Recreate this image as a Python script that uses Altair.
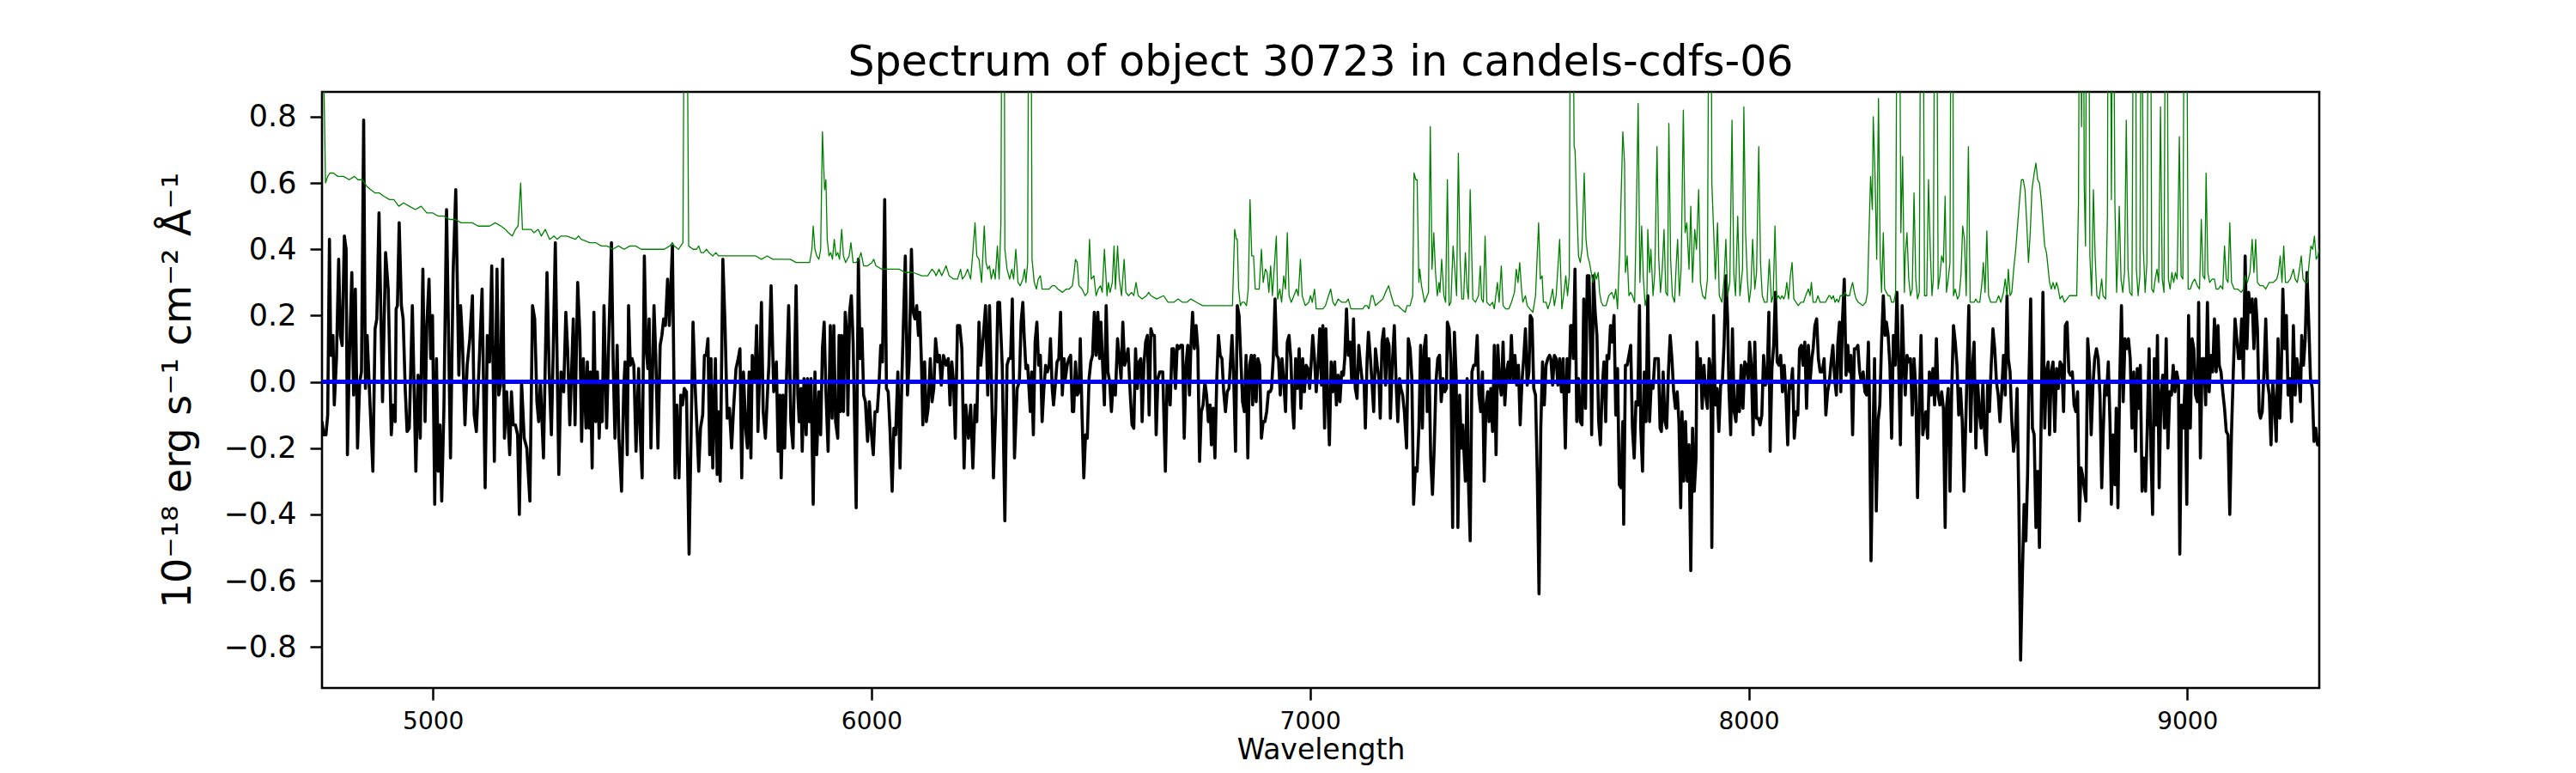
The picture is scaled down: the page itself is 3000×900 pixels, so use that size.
import altair as alt
import pandas as pd

# ---------------- data (wavelength in Angstrom, flux in 1e-18 erg/s/cm2/A) ----------------
flux_a = [(4747,-0.12),(4751,-0.16),(4756,-0.16),(4760,-0.10),(4764,0.43),(4767,0.08),(4772,0.14),(4775,-0.07),(4780,0.07),(4785,0.37),(4789,0.14),(4793,0.11),(4798,0.44),(4802,0.40),(4805,-0.22),(4809,0.05),(4815,0.33),(4819,-0.04),(4823,0.28),(4828,-0.20),(4833,0.00),(4837,0.03),(4842,0.79),(4846,-0.02),(4850,0.14),(4855,-0.02),(4863,-0.27),(4868,0.16),(4872,0.19),(4877,0.51),(4885,-0.06),(4892,0.39),(4898,0.28),(4905,-0.16),(4909,-0.07),(4914,-0.12),(4916,0.22),(4919,0.23),(4923,0.48),(4928,0.23),(4932,0.19),(4937,-0.03),(4941,-0.15),(4946,-0.14),(4953,0.23),(4961,-0.27),(4966,0.02),(4971,-0.17),(4977,0.34),(4982,-0.12),(4986,0.17),(4991,0.31),(4995,0.07),(4999,0.20),(5004,-0.37),(5008,0.07),(5012,-0.27),(5016,-0.13),(5020,-0.36),(5025,-0.08),(5031,0.52),(5040,-0.23),(5046,0.33),(5052,0.58),(5059,0.02),(5063,0.23),(5067,0.13),(5073,-0.13),(5078,0.05),(5084,0.13),(5090,0.26),(5094,-0.10),(5099,-0.15),(5104,0.01),(5112,0.28),(5119,-0.32),(5124,0.14),(5129,0.06),(5134,0.35),(5140,-0.24),(5146,0.34),(5150,-0.04),(5154,-0.01),(5159,0.37),(5163,-0.17),(5168,-0.03),(5175,-0.22),(5179,-0.03),(5183,-0.13),(5188,-0.13),(5193,-0.16),(5197,-0.40),(5202,0.00),(5208,-0.17),(5214,-0.20),(5221,-0.36),(5227,0.23),(5232,0.19),(5237,-0.06),(5241,-0.12),(5245,0.00),(5252,-0.23),(5260,0.33),(5265,0.03),(5270,-0.16),(5274,0.08),(5279,0.42),(5287,-0.28),(5292,0.03),(5298,-0.03),(5303,0.21),(5307,0.10),(5312,-0.13),(5317,0.07),(5320,0.19),(5324,-0.13)]

flux_b = [(5330,0.30),(5335,0.14),(5339,-0.18),(5343,0.07),(5349,-0.14),(5352,0.06),(5356,-0.14),(5359,0.03),(5363,-0.26),(5367,0.21),(5371,-0.12),(5375,0.03),(5379,-0.17),(5383,0.00),(5386,-0.12),(5390,0.23),(5396,-0.14),(5401,0.13),(5407,0.42),(5411,0.05),(5415,-0.17),(5420,0.11),(5424,-0.17),(5430,-0.33),(5435,-0.02),(5438,0.06),(5443,-0.22),(5446,0.23),(5450,0.05),(5454,0.07),(5458,0.05),(5463,-0.21),(5469,0.04),(5473,-0.17),(5477,-0.29),(5482,0.38),(5486,0.10),(5490,0.04),(5493,0.19),(5497,-0.20),(5504,0.23),(5508,0.08),(5513,-0.20),(5518,0.11),(5522,0.14),(5526,0.19),(5530,0.17),(5535,0.31),(5539,0.17),(5546,0.41),(5552,-0.29),(5556,-0.07),(5561,-0.29),(5565,-0.04),(5569,-0.07),(5573,-0.02),(5578,-0.03),(5584,-0.52),(5587,-0.28),(5593,0.18),(5598,-0.02),(5602,-0.14),(5606,-0.27),(5610,-0.14),(5615,-0.10),(5619,0.08),(5623,0.08),(5627,0.13),(5631,-0.22),(5634,0.07),(5638,-0.26),(5644,0.07),(5648,-0.28),(5651,-0.09),(5655,-0.30),(5661,0.37),(5666,0.17),(5671,-0.11),(5676,-0.08),(5681,-0.20),(5685,-0.09),(5691,0.04),(5696,0.07),(5700,0.10),(5704,-0.29),(5708,0.03),(5713,-0.14),(5717,-0.20),(5721,0.03),(5725,-0.23),(5728,0.08),(5734,0.01),(5738,0.17),(5741,-0.15),(5745,0.03),(5749,0.24),(5753,-0.09),(5758,-0.17),(5764,0.00),(5766,0.05),(5771,0.29),(5777,-0.03),(5783,0.06),(5787,-0.21),(5791,-0.04),(5794,-0.29),(5798,-0.04),(5802,-0.20),(5805,-0.04),(5811,0.23),(5816,-0.12),(5821,-0.20),(5828,0.29),(5832,-0.04),(5835,-0.12),(5839,-0.02),(5842,-0.21),(5846,0.01),(5851,-0.16),(5854,0.01),(5858,-0.12),(5862,0.01),(5867,-0.37),(5871,0.03),(5875,-0.22),(5880,-0.03),(5884,-0.16),(5888,0.10),(5892,0.18)]

flux_c = [(5896,-0.03),(5901,-0.21),(5906,0.17),(5910,-0.11),(5914,0.17),(5918,-0.12),(5923,-0.17),(5926,0.14),(5929,-0.09),(5932,0.14),(5936,-0.09),(5940,0.21),(5944,0.14),(5946,-0.10),(5950,0.21),(5954,0.26),(5958,0.12),(5965,-0.38),(5970,0.37),(5974,0.07),(5978,0.16),(5982,-0.04),(5986,-0.06),(5991,-0.18),(5995,-0.06),(6000,-0.16),(6004,-0.22),(6008,-0.09),(6013,-0.09),(6017,-0.01),(6021,0.11),(6025,0.06),(6030,0.55),(6034,-0.02),(6038,-0.03),(6042,-0.14),(6047,-0.33),(6051,-0.14),(6055,-0.16),(6060,0.03),(6065,-0.26),(6069,0.00),(6073,0.19),(6077,0.38),(6082,-0.04),(6086,0.07),(6091,0.40),(6095,0.21),(6099,0.19),(6103,0.23),(6107,0.14),(6110,0.21),(6114,0.05),(6117,-0.13),(6121,0.06),(6125,-0.12),(6129,-0.08),(6134,0.07),(6138,-0.06),(6142,-0.02),(6146,0.13),(6151,0.06),(6155,0.08),(6159,-0.01),(6164,0.08),(6170,0.05),(6175,0.07),(6179,-0.07),(6183,0.06),(6187,0.00),(6191,-0.17),(6196,0.17),(6201,0.17),(6206,0.10),(6211,-0.26),(6215,-0.07),(6221,-0.17),(6226,-0.07),(6231,-0.26),(6236,-0.07),(6240,-0.12),(6245,0.18),(6249,0.05),(6255,0.14),(6260,0.23),(6265,-0.04),(6269,0.23),(6274,-0.03),(6278,-0.29),(6283,-0.09),(6288,0.24),(6292,0.24),(6298,0.05),(6304,-0.42),(6309,0.05),(6313,0.07),(6317,0.07),(6321,0.25),(6326,-0.23),(6332,-0.02),(6337,0.00),(6341,0.18),(6345,0.24),(6348,0.14),(6352,0.04),(6356,0.05),(6362,-0.09),(6365,0.03),(6369,-0.16),(6373,0.12),(6377,0.18),(6381,0.05),(6385,0.08),(6389,-0.12),(6393,-0.02),(6397,0.05),(6401,0.03),(6405,0.05),(6408,0.13),(6412,-0.02),(6415,-0.07),(6419,-0.01),(6423,0.06),(6427,0.07),(6431,0.21),(6435,-0.04),(6439,0.07),(6442,0.01),(6446,0.05),(6450,0.07),(6454,0.08),(6458,-0.09)]

flux_d = [(6461,-0.09),(6465,0.06),(6469,-0.04),(6473,-0.03),(6476,0.13),(6480,-0.10),(6484,-0.29),(6488,-0.16),(6492,-0.17),(6496,0.01),(6500,0.06),(6504,0.08),(6508,0.21),(6512,0.08),(6516,0.21),(6520,0.07),(6523,0.18),(6527,0.05),(6531,-0.07),(6535,0.23),(6539,0.03),(6543,0.00),(6547,-0.09),(6551,0.00),(6556,-0.04),(6561,0.13),(6565,0.07),(6569,0.01),(6573,0.18),(6577,0.05),(6581,0.07),(6585,0.10),(6590,-0.04),(6594,-0.13),(6598,-0.14),(6602,0.10),(6606,-0.02),(6610,0.06),(6614,0.07),(6617,-0.12),(6621,0.05),(6625,0.12),(6629,0.14),(6633,-0.10),(6637,0.16),(6641,0.14),(6645,0.14),(6649,-0.16),(6653,0.01),(6657,0.03),(6661,0.03),(6664,0.03),(6670,-0.27),(6674,0.00),(6677,0.00),(6681,-0.07),(6685,0.10),(6689,0.10),(6693,-0.02),(6697,0.11),(6701,0.10),(6705,0.11),(6709,0.11),(6713,-0.17),(6717,0.05),(6721,0.11),(6725,-0.04),(6728,0.10),(6732,0.21),(6736,0.10),(6740,0.17),(6744,0.10),(6748,-0.24),(6752,-0.09),(6756,-0.07),(6760,0.00),(6764,-0.04),(6768,-0.12),(6772,-0.07),(6775,-0.19),(6779,-0.08),(6783,-0.23),(6787,0.00),(6791,0.14),(6795,0.08),(6799,0.07),(6803,-0.03),(6807,-0.09),(6811,-0.03),(6815,-0.02),(6818,0.05),(6822,0.14),(6826,0.00),(6830,-0.21),(6834,0.23),(6838,0.20),(6842,0.07),(6846,-0.06),(6850,-0.09),(6854,0.08),(6858,-0.23),(6862,0.05),(6866,0.08),(6869,-0.07),(6873,0.08),(6877,-0.06),(6881,0.07),(6885,0.05),(6889,-0.17),(6893,-0.12),(6897,-0.12),(6901,-0.09),(6905,-0.03),(6909,-0.03),(6912,-0.02),(6916,0.07),(6920,0.25),(6924,0.08),(6928,0.07),(6932,-0.04),(6936,0.07),(6940,0.00),(6944,-0.09),(6948,0.12),(6952,0.14),(6956,0.07),(6960,-0.08),(6963,-0.14),(6967,0.07),(6971,-0.02),(6975,0.10),(6979,-0.08),(6983,0.07),(6987,-0.03),(6991,0.05),(6995,0.04),(6999,-0.02),(7003,0.07),(7006,0.14),(7010,0.07),(7014,-0.03),(7018,0.05),(7022,0.16),(7026,-0.01)]

flux_e = [(7029,0.17),(7033,-0.14),(7036,0.16),(7040,-0.04),(7044,-0.19),(7048,0.06),(7052,-0.03),(7056,0.06),(7060,-0.07),(7064,0.02),(7068,-0.06),(7072,0.03),(7076,0.02),(7079,0.07),(7083,0.22),(7087,0.08),(7091,0.12),(7095,0.00),(7099,0.19),(7103,-0.02),(7107,-0.05),(7111,0.11),(7115,0.05),(7119,0.00),(7123,0.00),(7126,-0.14),(7130,0.07),(7133,0.15),(7137,0.08),(7141,0.00),(7145,-0.09),(7149,0.10),(7153,0.05),(7157,0.01),(7160,-0.11),(7164,0.12),(7168,0.16),(7172,-0.01),(7176,0.13),(7180,0.11),(7183,-0.11),(7187,0.04),(7192,0.17),(7196,0.00),(7200,-0.12),(7204,0.01),(7207,-0.02),(7211,-0.04),(7215,-0.09),(7220,-0.20),(7224,0.13),(7228,0.10),(7232,0.01),(7236,-0.37),(7240,-0.26),(7244,-0.27),(7248,-0.14),(7252,0.11),(7256,-0.14),(7260,0.10),(7264,0.14),(7267,-0.09),(7271,0.07),(7275,-0.23),(7279,-0.34),(7283,-0.20),(7287,0.00),(7291,0.07),(7295,0.08),(7299,-0.06),(7303,0.01),(7307,-0.03),(7311,-0.02),(7313,0.18),(7317,0.16),(7321,0.06),(7325,-0.44),(7329,0.15),(7333,0.02),(7337,-0.44),(7341,-0.04),(7345,-0.20),(7348,-0.13),(7354,-0.30),(7358,0.01),(7361,-0.30),(7365,-0.48),(7369,0.03),(7373,0.05),(7377,0.05),(7381,0.14),(7385,-0.04),(7389,-0.09),(7393,0.03),(7397,-0.30),(7401,-0.07),(7405,-0.03),(7408,-0.12),(7412,-0.02),(7416,-0.15),(7420,0.11),(7424,-0.22),(7428,0.11),(7432,0.00),(7436,-0.04),(7440,0.12),(7444,-0.07),(7448,0.03),(7452,0.06),(7455,0.00),(7459,0.14),(7463,0.00),(7467,0.08),(7471,-0.01),(7475,0.05),(7479,-0.13),(7483,0.00),(7487,0.07),(7491,0.16),(7495,-0.01),(7499,0.03),(7502,0.20),(7506,0.19),(7510,-0.02),(7514,-0.04),(7518,-0.28),(7522,-0.64),(7526,-0.14),(7530,0.06),(7534,-0.07),(7538,0.05),(7542,0.07),(7546,0.08),(7549,0.07),(7553,-0.01),(7557,0.08),(7561,0.07),(7565,-0.01),(7569,0.07),(7573,-0.03),(7577,0.07),(7582,-0.20),(7586,0.07),(7590,-0.03),(7594,0.17)]

flux_f = [(7597,0.17),(7600,0.07),(7604,0.34),(7608,-0.12),(7612,0.01),(7616,-0.12),(7620,-0.13),(7624,0.25),(7628,-0.08),(7632,0.32),(7636,0.32),(7640,0.07),(7642,-0.16),(7646,0.32),(7650,0.21),(7654,0.14),(7658,-0.12),(7662,-0.19),(7666,-0.02),(7670,0.06),(7674,-0.12),(7677,0.08),(7681,0.07),(7685,0.17),(7689,0.12),(7693,0.20),(7697,-0.10),(7701,0.04),(7705,-0.31),(7709,-0.32),(7713,-0.12),(7715,-0.43),(7719,0.05),(7723,0.05),(7727,0.08),(7731,0.11),(7735,-0.14),(7739,-0.23),(7743,-0.06),(7747,-0.07),(7751,0.23),(7754,-0.14),(7758,-0.27),(7762,0.03),(7766,-0.12),(7770,0.26),(7774,-0.12),(7778,0.00),(7782,-0.02),(7786,0.07),(7790,0.07),(7794,0.07),(7798,-0.14),(7801,-0.15),(7805,0.03),(7809,-0.12),(7813,-0.14),(7817,0.03),(7821,0.14),(7825,0.07),(7829,-0.03),(7833,-0.08),(7837,-0.03),(7841,-0.12),(7845,-0.38),(7848,-0.09),(7852,-0.30),(7856,-0.12),(7860,-0.30),(7864,-0.19),(7868,-0.57),(7872,-0.14),(7876,-0.33),(7880,-0.23),(7882,0.12),(7886,0.00),(7890,0.07),(7894,-0.08),(7898,0.05),(7902,-0.04),(7906,-0.08),(7910,0.07),(7914,0.03),(7916,-0.50),(7920,0.20),(7924,-0.07),(7928,-0.02),(7932,-0.15),(7936,-0.01),(7940,0.00),(7944,0.12),(7948,0.32),(7952,0.19),(7955,-0.02),(7959,-0.16),(7963,0.16),(7967,-0.09),(7971,-0.12),(7975,-0.01),(7979,-0.09),(7983,0.05),(7987,-0.08),(7991,0.06),(7995,0.05),(7999,0.00),(8002,0.12),(8006,0.05),(8010,-0.16),(8014,0.12),(8018,-0.11),(8022,-0.11),(8026,-0.13),(8030,-0.10),(8034,0.08),(8038,-0.01),(8042,0.00),(8046,0.21),(8049,-0.21),(8053,0.04),(8057,0.11),(8061,0.27),(8065,0.06),(8069,0.05),(8073,0.08),(8077,-0.03),(8081,0.05),(8085,-0.04),(8089,-0.19),(8093,0.00),(8096,-0.02),(8100,0.04),(8104,-0.17),(8108,-0.09),(8112,-0.10),(8116,0.10),(8120,0.11),(8124,0.05),(8128,0.12),(8132,-0.08),(8136,0.11),(8140,0.00),(8144,0.07),(8147,0.10),(8151,0.17),(8155,0.19),(8159,0.07),(8163,0.03)]

flux_g = [(8168,0.03),(8172,0.07),(8176,-0.10),(8180,-0.03),(8184,0.00),(8188,0.06),(8192,0.11),(8196,0.01),(8200,-0.04),(8203,0.11),(8207,0.18),(8210,-0.03),(8214,0.19),(8218,0.31),(8222,0.02),(8226,0.11),(8230,0.03),(8233,0.08),(8237,-0.16),(8241,0.10),(8245,0.10),(8249,0.11),(8253,0.03),(8257,0.00),(8261,0.03),(8265,-0.03),(8269,-0.04),(8273,0.12),(8275,-0.02),(8279,-0.54),(8283,-0.20),(8287,0.07),(8291,-0.39),(8295,-0.12),(8299,-0.07),(8303,0.12),(8307,0.26),(8311,0.14),(8314,0.18),(8318,0.14),(8322,0.05),(8326,-0.17),(8330,0.14),(8334,0.05),(8338,0.27),(8342,0.05),(8346,-0.19),(8350,0.23),(8354,0.05),(8357,-0.04),(8361,0.08),(8365,0.06),(8369,0.07),(8373,-0.10),(8377,0.07),(8381,-0.02),(8385,-0.35),(8389,-0.08),(8393,0.14),(8397,-0.16),(8401,-0.12),(8404,-0.09),(8408,-0.17),(8412,0.03),(8416,-0.04),(8420,0.04),(8424,-0.07),(8428,0.13),(8432,-0.04),(8436,-0.07),(8440,-0.03),(8444,-0.08),(8448,-0.44),(8451,-0.08),(8455,-0.02),(8459,-0.33),(8463,-0.02),(8467,0.17),(8471,0.12),(8475,0.05),(8479,-0.10),(8483,-0.02),(8487,-0.12),(8491,-0.33),(8495,-0.12),(8498,0.03),(8502,0.23),(8506,-0.15),(8510,0.04),(8514,0.12),(8518,-0.20),(8522,0.00),(8526,-0.09),(8530,-0.14),(8534,0.00),(8538,-0.16),(8542,-0.22),(8545,0.00),(8549,-0.09),(8553,0.05),(8557,0.16),(8561,0.10),(8565,0.00),(8569,-0.04),(8573,-0.12),(8577,-0.03),(8581,0.08),(8585,-0.04),(8589,0.26),(8592,0.07),(8596,0.03),(8600,-0.12),(8604,-0.21),(8608,-0.16),(8612,-0.02),(8616,-0.36),(8620,-0.84),(8624,-0.59),(8628,-0.37),(8632,-0.48),(8636,-0.28),(8639,0.00),(8643,0.25),(8647,-0.14),(8651,-0.16),(8655,-0.44),(8659,-0.27),(8663,-0.50),(8667,-0.10),(8671,0.27),(8675,-0.14),(8679,0.03),(8683,0.06),(8686,-0.16),(8690,0.03),(8694,0.06),(8698,-0.15),(8702,0.04),(8706,-0.02),(8710,0.06),(8714,0.05),(8718,-0.09),(8722,0.17),(8726,0.18),(8730,0.03)]

flux_h = [(8734,0.02),(8738,0.03),(8742,-0.07),(8746,-0.09),(8750,-0.03),(8754,-0.42),(8758,-0.26),(8761,-0.28),(8765,-0.32),(8769,-0.36),(8773,0.13),(8777,0.05),(8781,-0.16),(8785,-0.01),(8789,0.07),(8793,0.10),(8797,0.07),(8801,-0.04),(8805,-0.32),(8808,-0.17),(8812,-0.01),(8816,-0.04),(8820,0.06),(8824,-0.13),(8827,-0.37),(8831,-0.16),(8835,-0.31),(8838,-0.08),(8842,-0.38),(8846,0.00),(8850,0.23),(8854,-0.06),(8858,0.13),(8862,0.10),(8866,0.13),(8870,0.07),(8874,-0.14),(8878,0.03),(8882,-0.21),(8886,0.04),(8889,-0.08),(8893,0.05),(8897,-0.33),(8901,-0.23),(8905,-0.33),(8909,-0.13),(8913,0.10),(8917,-0.20),(8921,-0.40),(8925,0.07),(8929,-0.13),(8932,0.14),(8936,-0.32),(8940,-0.04),(8944,0.02),(8948,-0.14),(8952,0.13),(8956,-0.20),(8960,-0.03),(8964,-0.04),(8968,0.05),(8972,-0.03),(8976,0.03),(8980,0.00),(8983,-0.52),(8987,-0.07),(8991,-0.14),(8995,0.00),(8999,-0.37),(9003,0.20),(9007,-0.14),(9011,0.13),(9015,0.10),(9019,-0.04),(9023,-0.06),(9026,0.24),(9030,-0.23),(9034,0.07),(9038,0.07),(9042,-0.07),(9046,0.24),(9050,-0.03),(9054,0.08),(9058,0.03),(9062,0.19),(9066,0.03),(9070,0.17),(9073,0.05),(9077,0.03),(9081,-0.03),(9085,-0.08),(9089,-0.15),(9093,-0.16),(9097,-0.40),(9101,-0.15),(9105,0.03),(9109,0.19),(9113,0.13),(9117,0.07),(9120,0.07),(9124,0.19),(9128,0.01),(9132,0.38),(9136,0.10),(9140,0.27),(9144,0.21),(9148,0.25),(9152,0.10),(9156,0.25),(9160,0.16),(9164,-0.09),(9167,-0.11),(9171,-0.09),(9175,0.03),(9179,0.19),(9183,0.00),(9187,-0.04),(9191,-0.19),(9195,0.00),(9199,-0.07),(9203,-0.18),(9207,0.13),(9211,-0.11),(9214,0.00),(9218,0.28),(9222,0.10),(9226,0.20),(9230,-0.04),(9234,0.01),(9238,-0.12),(9242,0.17),(9246,-0.04),(9250,0.07),(9254,0.03),(9258,-0.06),(9261,0.14),(9265,0.05),(9269,0.13),(9273,0.33),(9277,0.18),(9281,0.01),(9285,-0.02),(9289,-0.18),(9293,-0.14),(9297,-0.19),(9301,-0.19)]

# noise / sky spectrum (green)
sky_a = [(4748,1.20),(4752,0.85),(4755,0.60),(4760,0.62),(4765,0.63),(4773,0.63),(4783,0.62),(4796,0.62),(4809,0.61),(4821,0.62),(4829,0.61),(4839,0.61),(4849,0.59),(4858,0.58),(4868,0.57),(4878,0.57),(4888,0.56),(4901,0.55),(4911,0.55),(4922,0.53),(4933,0.54),(4946,0.53),(4960,0.52),(4973,0.53),(4986,0.51),(4999,0.51),(5012,0.50),(5025,0.50),(5038,0.49),(5051,0.49),(5064,0.48),(5077,0.48),(5090,0.48),(5103,0.47),(5116,0.47),(5129,0.47),(5142,0.48),(5155,0.47),(5165,0.46),(5172,0.45),(5181,0.44),(5188,0.46),(5194,0.47),(5200,0.60),(5204,0.46),(5214,0.46),(5224,0.46),(5230,0.45),(5240,0.46),(5247,0.44),(5256,0.46),(5266,0.43),(5276,0.44),(5283,0.43),(5292,0.44),(5305,0.44),(5325,0.43),(5332,0.44),(5338,0.43),(5358,0.42),(5371,0.42),(5384,0.41),(5397,0.41),(5410,0.40),(5423,0.41),(5436,0.40),(5449,0.41),(5462,0.41),(5475,0.40),(5488,0.40),(5501,0.40),(5514,0.40),(5527,0.40),(5540,0.41),(5546,0.42),(5550,0.41),(5560,0.40),(5565,0.41),(5570,0.42),(5574,1.50),(5578,1.50),(5583,0.41),(5593,0.40),(5596,0.40),(5601,0.40),(5606,0.41),(5611,0.39),(5617,0.39),(5624,0.40),(5629,0.39),(5638,0.38),(5645,0.39),(5651,0.38),(5661,0.38),(5671,0.38),(5684,0.38),(5697,0.38),(5710,0.38),(5723,0.38),(5736,0.38),(5749,0.37),(5762,0.38),(5775,0.37),(5788,0.37),(5802,0.37),(5815,0.37),(5828,0.36),(5841,0.36),(5859,0.36),(5864,0.40),(5867,0.47),(5871,0.40),(5875,0.38),(5880,0.37),(5884,0.40),(5888,0.755)]

sky_b = [(5893,0.58),(5896,0.61),(5899,0.43),(5903,0.38),(5907,0.39),(5911,0.37),(5915,0.43),(5919,0.38),(5923,0.39),(5927,0.37),(5932,0.46),(5936,0.38),(5941,0.36),(5945,0.37),(5949,0.38),(5953,0.42),(5958,0.36),(5965,0.36),(5971,0.37),(5976,0.39),(5982,0.35),(5991,0.35),(6001,0.36),(6005,0.37),(6010,0.35),(6023,0.34),(6043,0.34),(6063,0.34),(6076,0.33),(6095,0.33),(6115,0.32),(6128,0.32),(6138,0.34),(6144,0.33),(6147,0.32),(6154,0.34),(6160,0.32),(6170,0.35),(6177,0.32),(6187,0.31),(6196,0.31),(6203,0.34),(6207,0.31),(6213,0.32),(6219,0.34),(6226,0.31),(6231,0.39),(6236,0.48),(6240,0.38),(6245,0.37),(6251,0.30),(6257,0.47),(6261,0.36),(6265,0.34),(6269,0.35),(6273,0.31),(6278,0.34),(6282,0.31),(6287,0.41),(6291,0.31),(6295,0.48),(6298,1.50),(6302,1.50),(6304,0.40),(6309,0.34),(6315,0.31),(6320,0.34),(6324,0.31),(6329,0.40),(6334,0.30),(6339,0.29),(6345,0.31),(6349,0.34),(6352,0.30),(6356,0.36),(6359,1.50),(6363,1.50),(6366,0.37),(6371,0.30),(6376,0.28),(6380,0.31),(6385,0.32),(6389,0.28),(6395,0.28),(6405,0.28),(6412,0.29),(6418,0.29),(6425,0.28),(6435,0.27),(6444,0.28),(6451,0.28),(6458,0.29)]

sky_c = [(6462,0.33),(6465,0.37),(6469,0.36),(6473,0.29),(6480,0.28),(6487,0.26),(6493,0.27),(6497,0.43),(6501,0.31),(6507,0.32),(6512,0.26),(6517,0.28),(6522,0.29),(6526,0.27),(6531,0.40),(6537,0.26),(6540,0.30),(6544,0.27),(6549,0.30),(6553,0.41),(6556,0.28),(6561,0.41),(6565,0.31),(6570,0.26),(6576,0.37),(6580,0.27),(6586,0.26),(6593,0.27),(6598,0.26),(6603,0.30),(6608,0.26),(6617,0.25),(6627,0.26),(6632,0.27),(6637,0.26),(6650,0.25),(6666,0.26),(6676,0.24),(6689,0.24),(6699,0.25),(6709,0.24),(6719,0.24),(6728,0.25),(6741,0.24),(6755,0.23),(6768,0.23),(6781,0.23),(6790,0.23),(6800,0.23),(6813,0.23),(6823,0.23),(6828,0.46),(6832,0.43),(6834,0.43),(6837,0.28),(6841,0.23),(6845,0.24),(6850,0.24),(6855,0.23),(6859,0.28),(6863,0.55),(6867,0.38),(6871,0.38),(6875,0.28),(6879,0.28),(6884,0.28),(6889,0.40),(6893,0.30),(6898,0.34),(6902,0.33),(6906,0.27),(6910,0.35),(6914,0.26),(6918,0.34),(6923,0.44),(6926,0.25),(6931,0.28),(6935,0.24),(6940,0.32),(6944,0.28),(6948,0.45),(6952,0.26),(6957,0.24),(6963,0.26),(6969,0.28),(6973,0.26),(6978,0.37),(6982,0.26),(6989,0.23),(6997,0.24),(7001,0.26),(7005,0.24),(7010,0.28),(7014,0.22),(7022,0.22)]

sky_d = [(7029,0.22),(7035,0.23),(7042,0.26),(7047,0.28),(7052,0.24),(7057,0.23),(7064,0.25),(7072,0.24),(7078,0.24),(7082,0.24),(7087,0.25),(7093,0.22),(7107,0.22),(7120,0.22),(7125,0.23),(7130,0.23),(7134,0.22),(7140,0.26),(7143,0.26),(7149,0.23),(7157,0.24),(7166,0.25),(7172,0.27),(7179,0.29),(7185,0.26),(7192,0.23),(7200,0.23),(7208,0.22),(7217,0.21),(7221,0.23),(7228,0.23),(7234,0.26),(7237,0.63),(7241,0.61),(7244,0.61),(7248,0.30),(7250,0.34),(7254,0.29),(7261,0.24),(7267,0.26),(7270,0.27),(7274,0.77),(7278,0.34),(7282,0.45),(7286,0.33),(7290,0.26),(7294,0.30),(7296,0.27),(7300,0.37),(7305,0.26),(7309,0.24),(7313,0.61),(7317,0.23),(7321,0.24),(7326,0.41),(7330,0.34),(7334,0.26),(7338,0.69),(7342,0.37),(7346,0.25),(7350,0.25),(7354,0.39),(7358,0.28),(7361,0.25),(7365,0.58),(7371,0.25),(7377,0.24),(7384,0.26),(7388,0.35),(7391,0.25),(7395,0.24),(7399,0.44),(7403,0.24),(7410,0.23),(7416,0.24),(7420,0.22),(7427,0.30),(7431,0.24),(7436,0.35),(7440,0.23),(7446,0.22),(7453,0.22),(7459,0.24),(7466,0.27),(7470,0.34),(7474,0.30),(7478,0.36),(7482,0.28),(7485,0.24),(7491,0.26),(7495,0.23),(7501,0.22),(7508,0.21),(7514,0.26),(7521,0.48),(7525,0.31),(7529,0.32),(7532,0.24),(7538,0.24),(7542,0.22),(7547,0.24),(7553,0.28),(7557,0.23),(7561,0.26),(7569,0.43),(7574,0.22),(7579,0.27),(7583,0.32),(7587,0.26),(7591,0.32),(7594,1.50)]

sky_e = [(7598,1.50),(7602,0.71),(7604,0.70),(7608,0.54),(7612,0.38),(7616,0.36),(7620,0.40),(7625,0.63),(7629,0.43),(7633,0.38),(7637,0.36),(7641,0.33),(7645,0.30),(7649,0.33),(7653,0.31),(7657,0.33),(7660,0.27),(7664,0.24),(7668,0.23),(7675,0.23),(7681,0.26),(7688,0.27),(7693,0.25),(7697,0.28),(7701,0.22),(7706,0.40),(7713,0.755),(7717,0.66),(7719,0.33),(7723,0.38),(7727,0.26),(7731,0.27),(7735,0.26),(7740,0.24),(7744,0.52),(7748,0.84),(7752,0.30),(7756,0.47),(7760,0.31),(7764,0.23),(7768,0.26),(7770,0.46),(7774,0.33),(7777,0.40),(7782,0.26),(7786,0.33),(7791,0.71),(7795,0.37),(7799,0.27),(7803,0.34),(7807,0.46),(7811,0.27),(7815,0.26),(7818,0.78),(7822,0.37),(7826,0.26),(7831,0.24),(7835,0.36),(7838,0.43),(7842,0.26),(7846,0.34),(7851,0.82),(7855,0.45),(7859,0.48),(7864,0.34),(7868,0.53),(7872,0.30),(7877,0.46),(7881,0.40),(7886,0.58),(7890,0.30),(7895,0.26),(7901,0.25),(7906,0.31),(7910,1.50),(7914,1.50),(7916,0.60),(7920,0.46),(7924,0.31),(7929,0.48),(7933,0.26),(7939,0.24),(7944,0.31),(7948,0.43),(7952,0.26),(7957,0.30),(7962,0.79),(7966,0.33),(7970,0.26),(7975,0.50),(7980,0.26),(7986,0.34),(7989,0.83),(7993,0.45),(7997,0.31),(8001,0.24),(8005,0.28),(8009,0.43),(8014,0.28),(8018,0.33),(8023,0.71),(8027,0.36),(8031,0.26),(8036,0.24),(8042,0.24),(8047,0.37),(8052,0.24),(8056,0.26),(8060,0.47),(8064,0.25),(8068,0.26),(8072,0.25),(8076,0.26),(8080,0.25),(8083,0.26),(8087,0.30),(8091,0.25),(8095,0.32),(8099,0.36),(8103,0.25),(8108,0.24),(8113,0.23),(8119,0.24),(8125,0.24),(8130,0.26),(8136,0.28),(8140,0.26),(8143,0.30),(8147,0.24),(8153,0.24),(8158,0.26),(8163,0.24)]

sky_f = [(8169,0.24),(8175,0.24),(8179,0.25),(8183,0.26),(8185,0.26),(8189,0.25),(8193,0.26),(8197,0.24),(8201,0.25),(8205,0.24),(8209,0.26),(8213,0.26),(8216,0.26),(8220,0.27),(8224,0.26),(8230,0.26),(8233,0.28),(8237,0.30),(8241,0.27),(8245,0.25),(8250,0.24),(8260,0.23),(8267,0.24),(8271,0.27),(8274,0.43),(8278,0.62),(8282,0.52),(8284,0.80),(8288,0.63),(8292,0.37),(8296,0.855),(8300,0.37),(8303,0.27),(8307,0.45),(8310,0.28),(8314,0.27),(8318,0.26),(8322,0.26),(8326,0.24),(8331,0.24),(8335,0.27),(8339,1.50),(8343,1.50),(8347,0.45),(8351,0.68),(8355,0.27),(8357,0.38),(8361,0.45),(8365,0.31),(8369,0.26),(8373,0.28),(8377,0.57),(8381,0.31),(8385,0.25),(8389,0.27),(8393,1.50),(8397,1.50),(8401,0.26),(8406,0.26),(8410,0.61),(8414,0.40),(8418,0.26),(8421,0.31),(8425,1.50),(8428,1.50),(8432,0.28),(8436,0.32),(8440,0.38),(8444,0.36),(8448,0.56),(8451,0.27),(8455,0.31),(8459,0.36),(8462,1.50),(8465,1.50),(8467,0.26),(8471,0.28),(8476,0.25),(8480,0.26),(8484,0.32),(8488,0.47),(8492,0.43),(8496,0.26),(8501,0.71),(8505,0.24),(8510,0.24),(8514,0.24),(8518,0.25),(8522,0.24),(8527,0.24),(8532,0.30),(8535,0.36),(8539,0.27),(8543,0.455),(8547,0.26),(8552,0.24),(8557,0.24),(8564,0.24),(8570,0.26),(8575,0.24),(8581,0.27),(8585,0.31),(8589,0.26),(8592,0.34),(8596,0.26),(8600,0.27),(8605,0.35),(8609,0.40),(8613,0.47),(8619,0.57),(8622,0.61),(8626,0.61),(8630,0.58),(8634,0.48),(8638,0.36),(8642,0.45),(8646,0.58),(8651,0.63),(8655,0.66),(8659,0.61),(8663,0.60),(8667,0.55),(8671,0.48),(8675,0.41),(8679,0.39),(8683,0.34),(8686,0.30),(8690,0.28),(8694,0.30),(8698,0.28),(8702,0.30),(8706,0.28),(8710,0.25),(8715,0.26),(8720,0.24),(8726,0.25),(8731,0.26)]

sky_g = [(8735,0.26),(8742,0.26),(8748,0.26),(8752,0.54),(8755,1.50),(8759,0.77),(8763,1.50),(8765,0.60),(8768,0.41),(8771,1.50),(8775,1.50),(8778,0.38),(8782,0.26),(8786,0.58),(8790,0.38),(8794,0.26),(8799,0.25),(8805,0.31),(8808,0.26),(8814,0.25),(8818,0.50),(8820,1.50),(8824,1.50),(8827,0.55),(8831,1.50),(8835,0.54),(8839,0.27),(8842,0.38),(8845,0.53),(8849,0.31),(8853,0.27),(8857,0.33),(8861,0.79),(8865,0.34),(8869,0.27),(8874,0.26),(8878,1.50),(8882,1.50),(8884,0.34),(8888,0.26),(8892,0.32),(8896,1.50),(8900,0.40),(8904,0.27),(8908,0.36),(8912,1.50),(8916,1.50),(8919,0.28),(8923,0.27),(8927,0.31),(8931,0.34),(8935,0.30),(8939,0.83),(8943,0.31),(8947,0.27),(8951,1.50),(8953,1.50),(8957,0.31),(8961,0.28),(8965,0.33),(8969,0.30),(8973,0.33),(8977,0.31),(8982,0.74),(8986,0.32),(8990,0.31),(8994,1.50),(8998,1.50),(9002,0.28),(9007,0.28),(9012,0.30),(9017,0.31),(9023,0.29),(9028,0.28),(9032,0.49),(9036,0.32),(9040,0.31),(9043,0.63),(9047,0.33),(9051,0.30),(9057,0.31),(9062,0.31),(9066,0.28),(9071,0.28),(9076,0.29),(9081,0.28),(9085,0.41),(9089,0.31),(9093,0.30),(9097,0.48),(9101,0.30),(9107,0.28),(9115,0.28),(9123,0.27),(9128,0.28),(9132,0.32),(9137,0.30),(9143,0.33),(9148,0.43),(9152,0.33),(9156,0.43),(9160,0.30),(9166,0.29),(9173,0.29),(9179,0.28),(9187,0.30),(9196,0.30),(9204,0.31),(9208,0.33),(9212,0.38),(9216,0.30),(9220,0.41),(9224,0.30),(9229,0.30),(9235,0.31),(9242,0.34),(9246,0.31),(9251,0.30),(9256,0.34),(9260,0.38),(9264,0.31),(9269,0.30),(9274,0.30),(9278,0.36),(9282,0.41),(9286,0.40),(9290,0.44),(9294,0.37),(9298,0.38),(9301,0.40)]

x_ticks = [5000, 6000, 7000, 8000, 9000]
y_ticks = [-0.8, -0.6, -0.4, -0.2, 0.0, 0.2, 0.4, 0.6, 0.8]
x_domain = [4747, 9301]
y_domain = [-0.924, 0.875]
title_text = "Spectrum of object 30723 in candels-cdfs-06"
x_title = "Wavelength"
y_title = "10\u207b\u00b9\u2078 erg s\u207b\u00b9 cm\u207b\u00b2 \u00c5\u207b\u00b9"

# ---------------- frames ----------------
flux_pts = flux_a + flux_b + flux_c + flux_d + flux_e + flux_f + flux_g + flux_h
sky_pts = sky_a + sky_b + sky_c + sky_d + sky_e + sky_f + sky_g
flux_df = pd.DataFrame(flux_pts, columns=["wavelength", "flux"])
sky_df = pd.DataFrame(sky_pts, columns=["wavelength", "flux"])
zero_df = pd.DataFrame({"flux": [0.0]})

FONT = "DejaVu Sans"
xscale = alt.Scale(domain=x_domain, nice=False, zero=False)
yscale = alt.Scale(domain=y_domain, nice=False, zero=False)

xaxis = alt.Axis(values=x_ticks, format="d", title=x_title, grid=False, domain=False,
                 tickColor="black", tickSize=14, tickWidth=2.5,
                 labelFont=FONT, labelFontSize=28, labelColor="black", labelPadding=11,
                 titleFont=FONT, titleFontSize=33, titleFontWeight="normal", titleColor="black",
                 titleBaseline="top", titleY=56)
yaxis = alt.Axis(values=y_ticks, format=".1f", title=y_title, grid=False, domain=False,
                 tickColor="black", tickSize=14, tickWidth=2.5,
                 labelFont=FONT, labelFontSize=35, labelColor="black", labelPadding=16,
                 titleFont=FONT, titleFontSize=46, titleFontWeight="normal", titleColor="black",
                 titleAngle=270, titleBaseline="alphabetic", titleAlign="center",
                 titleX=-154, titleY=347)

flux_line = alt.Chart(flux_df).mark_line(color="black", strokeWidth=3.6, strokeJoin="round", clip=True).encode(
    x=alt.X("wavelength:Q", scale=xscale, axis=xaxis),
    y=alt.Y("flux:Q", scale=yscale, axis=yaxis),
)
sky_line = alt.Chart(sky_df).mark_line(color="#008000", strokeWidth=1.3, strokeJoin="round", clip=True).encode(
    x=alt.X("wavelength:Q", scale=xscale),
    y=alt.Y("flux:Q", scale=yscale),
)
zero_line = alt.Chart(zero_df).mark_rule(color="#0000ff", strokeWidth=5).encode(
    y=alt.Y("flux:Q", scale=yscale),
)

chart = alt.layer(flux_line, sky_line, zero_line).properties(
    width=2326,
    height=694,
    title=alt.TitleParams(title_text, font=FONT, fontSize=49, fontWeight="normal", color="black",
                          anchor="middle", baseline="alphabetic", offset=21, dy=51),
    padding={"left": 367, "top": 99, "right": 40, "bottom": 90},
    autosize=alt.AutoSizeParams(type="none"),
).configure(background="white").configure_view(stroke="black", strokeWidth=2.6)

chart.save("out.html", embed_options={"renderer": "svg", "actions": False})
